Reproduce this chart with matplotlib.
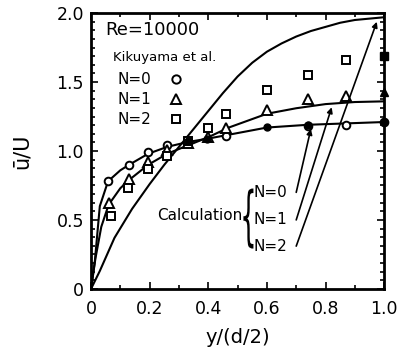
import matplotlib
matplotlib.use("Agg")
import matplotlib.pyplot as plt
from matplotlib.ticker import MultipleLocator
from matplotlib.textpath import TextPath
from matplotlib.font_manager import FontProperties
from matplotlib.patches import PathPatch
from matplotlib.transforms import Affine2D, ScaledTranslation

# Kikuyama et al. measurements (Re=10000)
n0_x = [0.058, 0.13, 0.195, 0.26, 0.33, 0.46, 0.74, 0.87]
n0_y = [0.78, 0.90, 0.99, 1.04, 1.07, 1.11, 1.18, 1.19]
n1_x = [0.06, 0.13, 0.195, 0.26, 0.33, 0.40, 0.46, 0.60, 0.74, 0.87]
n1_y = [0.62, 0.80, 0.92, 1.01, 1.06, 1.10, 1.17, 1.30, 1.38, 1.40]
n2_x = [0.067, 0.126, 0.195, 0.26, 0.33, 0.40, 0.46, 0.60, 0.74, 0.87]
n2_y = [0.53, 0.73, 0.87, 0.96, 1.07, 1.17, 1.27, 1.44, 1.55, 1.66]
# centreline values (drawn filled)
centre_x = [1.0, 1.0, 1.0]
centre_y = [1.21, 1.43, 1.69]
# dots marked on the N=0 calculation
dots_x = [0.33, 0.395, 0.60, 0.74]
dots_y = [1.07, 1.09, 1.175, 1.185]

# calculation curves
calc0_x = [0, 0.013, 0.03, 0.058, 0.1, 0.13, 0.195, 0.26, 0.33, 0.4, 0.5, 0.6, 0.74, 0.87, 1.0]
calc0_y = [0, 0.2, 0.6, 0.78, 0.86, 0.90, 0.98, 1.03, 1.065, 1.09, 1.13, 1.17, 1.19, 1.20, 1.21]
calc1_x = [0, 0.015, 0.035, 0.06, 0.1, 0.13, 0.195, 0.26, 0.33, 0.4, 0.47, 0.6, 0.7, 0.8, 0.9, 1.0]
calc1_y = [0, 0.22, 0.45, 0.61, 0.73, 0.79, 0.90, 0.98, 1.04, 1.10, 1.17, 1.27, 1.31, 1.34, 1.355, 1.36]
calc2_x = [0, 0.03, 0.08, 0.14, 0.2, 0.25, 0.3, 0.35, 0.4, 0.45, 0.5, 0.55, 0.6, 0.65, 0.7,
           0.75, 0.8, 0.85, 0.9, 0.95, 1.0]
calc2_y = [0, 0.13, 0.37, 0.58, 0.76, 0.90, 1.03, 1.16, 1.29, 1.42, 1.54, 1.64, 1.72, 1.78, 1.83,
           1.87, 1.90, 1.93, 1.95, 1.96, 1.97]

x_ticks = [0, 0.2, 0.4, 0.6, 0.8, 1.0]
x_labels = ["0", "0.2", "0.4", "0.6", "0.8", "1.0"]
y_ticks = [0, 0.5, 1.0, 1.5, 2.0]
y_labels = ["0", "0.5", "1.0", "1.5", "2.0"]

fig = plt.figure(figsize=(4.01, 3.54), dpi=100)
ax = fig.add_axes([0.227, 0.184, 0.731, 0.779])

for cx, cy in [(calc0_x, calc0_y), (calc1_x, calc1_y), (calc2_x, calc2_y)]:
    ax.plot(cx, cy, color="black", lw=1.5, zorder=2)

ms = dict(color="black", ls="none", mfc="white", mew=1.4, zorder=3)
ax.plot(n0_x, n0_y, marker="o", ms=5.5, **ms)
ax.plot(n1_x, n1_y, marker="^", ms=6.5, **ms)
ax.plot(n2_x, n2_y, marker="s", ms=5.5, **ms)
for x, y, m in zip(centre_x, centre_y, ["o", "^", "s"]):
    ax.plot(x, y, marker=m, ms=6, color="black", ls="none", clip_on=False, zorder=4)
ax.plot(dots_x, dots_y, marker="o", ms=5, color="black", ls="none", zorder=4)

ax.set_xlim(0, 1.0)
ax.set_ylim(0, 2.0)
ax.set_xticks(x_ticks)
ax.set_xticklabels(x_labels)
ax.set_yticks(y_ticks)
ax.set_yticklabels(y_labels)
ax.xaxis.set_minor_locator(MultipleLocator(0.1))
ax.yaxis.set_minor_locator(MultipleLocator(0.0625))
ax.tick_params(which="both", direction="in", top=True, right=True, width=1.2)
ax.tick_params(which="major", length=5, labelsize=12.5)
ax.tick_params(which="minor", length=3)
ax.tick_params(axis="x", pad=8)
ax.tick_params(axis="y", pad=5)
for s in ax.spines.values():
    s.set_linewidth(2)

ax.set_xlabel("y/(d/2)", fontsize=14, labelpad=7)
ax.set_ylabel("ū/U", fontsize=15, labelpad=18)

# in-plot legend text
ax.text(0.05, 1.88, "Re=10000", fontsize=13, va="center", ha="left")
ax.text(0.075, 1.68, "Kikuyama et al.", fontsize=9.5, va="center", ha="left")
for i, (lab, m) in enumerate(zip(["N=0", "N=1", "N=2"], ["o", "^", "s"])):
    yy = 1.52 - i * 0.145
    ax.text(0.09, yy, lab, fontsize=11, va="center", ha="left")
    ax.plot(0.29, yy, marker=m, ms=6 if m != "^" else 7, color="black", mfc="white", mew=1.4)

ax.text(0.515, 0.53, "Calculation", fontsize=11, va="center", ha="right")

# tall thin curly brace, stretched from a glyph outline
brace = TextPath((0, 0), "{", size=1, prop=FontProperties(family="DejaVu Sans"))
ext = brace.get_extents()
brace_tr = (Affine2D().translate(-(ext.x0 + ext.x1) / 2, -(ext.y0 + ext.y1) / 2)
            .scale(10 / ext.width, 60 / ext.height)
            + ScaledTranslation(0.537, 0.51, ax.transData))
ax.add_patch(PathPatch(brace, transform=brace_tr, facecolor="black", lw=0))

for lab, yy, end in [("N=0", 0.70, (0.75, 1.16)), ("N=1", 0.50, (0.821, 1.317)),
                     ("N=2", 0.31, (0.975, 1.937))]:
    ax.text(0.553, yy, lab, fontsize=11, va="center", ha="left")
    ax.annotate("", xy=end, xytext=(0.70, yy),
                arrowprops=dict(arrowstyle="-|>", lw=1.2, color="black",
                                mutation_scale=8, shrinkA=0, shrinkB=0))

fig.savefig("out.png", dpi=100)
